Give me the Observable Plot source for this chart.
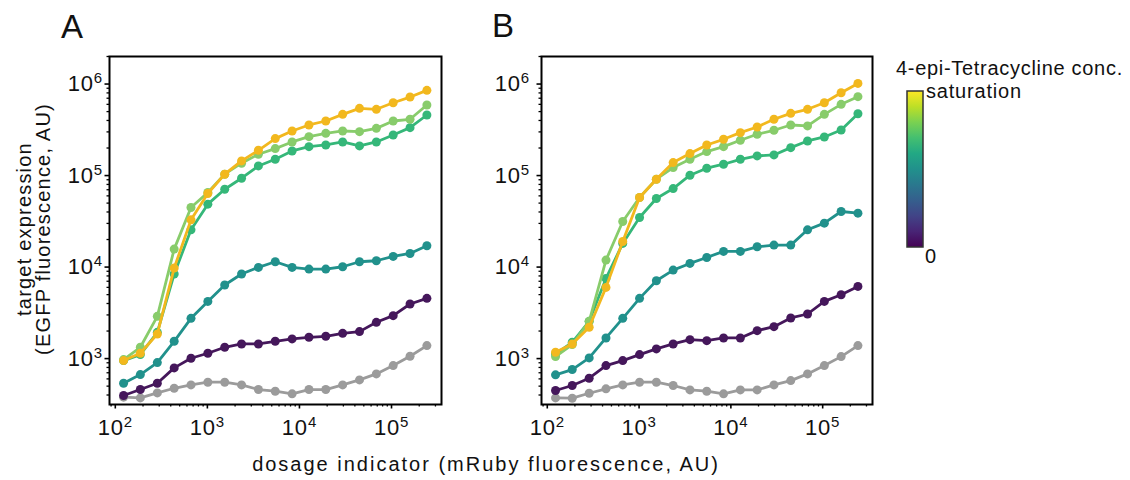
<!DOCTYPE html>
<html><head><meta charset="utf-8">
<script src="https://cdn.jsdelivr.net/npm/d3@7"></script>
<script src="https://cdn.jsdelivr.net/npm/@observablehq/plot@0.6"></script>
<style>
body{margin:0;background:#fff;}
#fig{position:relative;width:1130px;height:480px;background:#fff;font-family:"Liberation Sans",Arial,sans-serif;}
.panel{position:absolute;top:0;}
#overlay{position:absolute;left:0;top:0;}
</style></head><body><div id="fig"></div>
<script>
// dosage indicator (mRuby fluorescence, AU) – x positions of the 19 bins
const dose = [123, 187, 286, 436, 664, 1012, 1543, 2351, 3583, 5461, 8322, 12683, 19329, 29457, 44893, 68417, 104268, 158904, 242170];

// concentration levels (series)
const concLevels = ["control", "level 1", "level 2", "level 3", "level 4", "saturation"];

// Panel A – target expression (EGFP fluorescence, AU)
const A_control = [379, 372, 422, 474, 516, 552, 552, 516, 459, 440, 412, 459, 459, 516, 585, 680, 839, 1060, 1387];
const A_level1 = [395, 459, 538, 791, 1008, 1143, 1330, 1445, 1445, 1545, 1640, 1709, 1753, 1889, 1971, 2491, 2944, 3948, 4550];
const A_level2 = [538, 669, 904, 1545, 2754, 4217, 6363, 8395, 9919, 11430, 9919, 9510, 9510, 10080, 11430, 11730, 13070, 14090, 17090];
const A_level3 = [951, 1106, 1937, 8395, 25540, 48700, 70920, 93500, 127400, 150600, 185700, 207000, 216000, 233000, 210800, 233000, 277800, 334000, 459000];
const A_level4 = [975, 1330, 2896, 15710, 44770, 65310, 103500, 136500, 171000, 197200, 233000, 266000, 289500, 307000, 302000, 328000, 394600, 412000, 590000];
const A_saturation = [951, 1143, 1858, 9750, 32820, 63680, 103500, 144600, 188900, 253400, 307000, 357000, 394600, 466700, 543000, 529600, 625000, 721000, 853000];

// Panel B
const B_control = [372, 369, 418, 467, 516, 552, 552, 508, 455, 440, 412, 455, 455, 516, 575, 680, 839, 1051, 1387];
const B_level1 = [448, 508, 610, 839, 951, 1106, 1275, 1445, 1611, 1571, 1680, 1680, 2020, 2234, 2779, 3071, 4217, 4990, 6150];
const B_level2 = [664, 759, 1017, 1680, 2754, 4550, 7096, 9270, 10960, 12740, 14830, 14830, 16660, 17380, 17380, 25540, 30200, 40470, 38810];
const B_level3 = [1124, 1507, 2553, 7520, 18140, 34830, 56100, 72100, 100900, 120300, 133000, 150600, 164000, 168000, 201900, 238800, 264000, 315000, 474000];
const B_level4 = [1051, 1422, 2553, 11920, 31500, 57540, 91200, 122200, 150600, 182800, 207000, 242800, 282500, 312600, 357000, 348500, 466700, 600000, 727800];
const B_saturation = [1173, 1445, 2198, 6000, 19050, 57540, 91200, 138600, 173800, 216000, 249000, 294400, 339600, 412000, 478600, 529600, 625000, 803500, 1016000];

// tick values
const xMajorTicks = [1e2, 1e3, 1e4, 1e5];
const yMajorTicks = [1e3, 1e4, 1e5, 1e6];

// styles
const seriesColors = ["#9b9b9b", "#45175b", "#21918c", "#35b779", "#88cc6b", "#f2b81e"];
const xDomain = [86.5, 349000];
const yDomain = [315, 2.0e6];
const FONT = '"Liberation Sans", Arial, sans-serif';

const minorOf = (domain, majors) => d3.scaleLog().domain(domain).ticks().filter(v => !majors.some(m => Math.abs(m - v) / m < 1e-9));
const fmt = d => `10^${Math.round(Math.log10(d))}`;

function buildPanel(seriesArrays, cfg) {
  const marks = [];
  concLevels.forEach((lvl, i) => {
    const data = dose.map((x, j) => ({x, y: seriesArrays[i][j], level: lvl}));
    marks.push(Plot.line(data, {x: "x", y: "y", stroke: "level", strokeWidth: 2.8}));
    marks.push(Plot.dot(data, {x: "x", y: "y", fill: "level", r: 4.5}));
  });
  marks.push(Plot.axisX(minorOf(xDomain, xMajorTicks), {tickSize: 2.5, tickFormat: () => "", stroke: "black", strokeWidth: 1.3, label: null}));
  marks.push(Plot.axisY(minorOf(yDomain, yMajorTicks), {tickSize: 2.5, tickFormat: () => "", stroke: "black", strokeWidth: 1.3, label: null}));
  marks.push(Plot.axisX(xMajorTicks, {tickSize: 4.5, tickPadding: 10, tickFormat: fmt, fill: "#111", stroke: "black", strokeWidth: 1.6, label: null}));
  marks.push(Plot.axisY(yMajorTicks, {tickSize: 4.5, tickPadding: cfg.yPad, tickFormat: fmt, fill: "#111", stroke: "black", strokeWidth: 1.6, label: null}));
  marks.push(Plot.frame({stroke: "black", strokeWidth: 2}));
  const svg = Plot.plot({
    width: cfg.width, height: 480,
    marginLeft: cfg.marginLeft, marginRight: cfg.marginRight, marginTop: 56, marginBottom: 76,
    x: {type: "log", domain: xDomain},
    y: {type: "log", domain: yDomain},
    color: {type: "ordinal", domain: concLevels, range: seriesColors},
    style: {fontFamily: FONT, background: "transparent", overflow: "visible"},
    marks
  });
  d3.select(svg).selectAll("text").each(function () {
    const m = this.textContent.match(/^10\^(\d)$/);
    if (m) {
      const t = d3.select(this);
      t.attr("font-size", 22).style("font-size", "22px").style("letter-spacing", "0.8px");
      t.text("");
      t.append("tspan").text("10");
      t.append("tspan").attr("font-size", 15).style("font-size", "15px").attr("dy", -8).text(m[1]);
    }
  });
  return svg;
}

const fig = document.getElementById("fig");
const pA = buildPanel([A_control, A_level1, A_level2, A_level3, A_level4, A_saturation], {width: 460, marginLeft: 109, marginRight: 19, yPad: 2});
pA.classList.add("panel"); pA.style.left = "0px"; pA.style.position = "absolute";
fig.appendChild(pA);
const pB = buildPanel([B_control, B_level1, B_level2, B_level3, B_level4, B_saturation], {width: 440, marginLeft: 101, marginRight: 8, yPad: 7});
pB.classList.add("panel"); pB.style.left = "440px"; pB.style.position = "absolute";
fig.appendChild(pB);

// overlay: panel letters, axis titles, colorbar legend
const ov = d3.select(fig).append("svg").attr("id", "overlay").attr("width", 1130).attr("height", 480)
  .style("font-family", FONT).style("pointer-events", "none");
ov.append("text").attr("x", 61).attr("y", 38).attr("font-size", 33).attr("fill", "#111").text("A");
ov.append("text").attr("x", 492).attr("y", 37).attr("font-size", 33).attr("fill", "#111").text("B");
const yl = ov.append("g").attr("transform", "translate(0,229) rotate(-90)").attr("font-size", 20).attr("fill", "#111")
  .attr("text-anchor", "middle").style("letter-spacing", "1.2px");
yl.append("text").attr("x", 0).attr("y", 31).text("target expression");
yl.append("text").attr("x", 0).attr("y", 50).text("(EGFP fluorescence,  AU)");
ov.append("text").attr("x", 486).attr("y", 471).attr("font-size", 20).attr("fill", "#111").attr("text-anchor", "middle")
  .style("letter-spacing", "2px").text("dosage indicator (mRuby fluorescence, AU)");

// colorbar
const grad = ov.append("defs").append("linearGradient").attr("id", "vir").attr("x1", 0).attr("y1", 1).attr("x2", 0).attr("y2", 0);
d3.range(0, 1.0001, 0.1).forEach(t => grad.append("stop").attr("offset", t).attr("stop-color", d3.interpolateViridis(t)));
ov.append("rect").attr("x", 907).attr("y", 91).attr("width", 16).attr("height", 156)
  .attr("fill", "url(#vir)").attr("stroke", "#333").attr("stroke-width", 1.5);
ov.append("text").attr("x", 896).attr("y", 75).attr("font-size", 20).attr("fill", "#111").style("letter-spacing", "0.7px").text("4-epi-Tetracycline conc.");
ov.append("text").attr("x", 926).attr("y", 98).attr("font-size", 20).attr("fill", "#111").style("letter-spacing", "0.8px").text("saturation");
ov.append("text").attr("x", 925).attr("y", 263).attr("font-size", 20).attr("fill", "#111").text("0");
</script></body></html>
